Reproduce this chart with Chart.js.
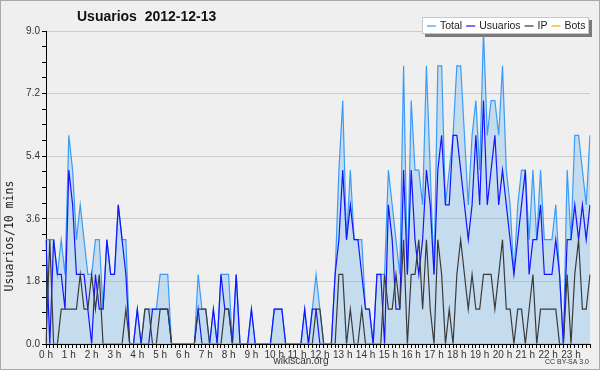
<!DOCTYPE html>
<html>
<head>
<meta charset="utf-8">
<script src="https://cdn.jsdelivr.net/npm/chart.js@4/dist/chart.umd.min.js"></script>
<style>
  body { margin: 0; background: #efefef; }
  canvas { display: block; }
</style>
</head>
<body>
<canvas id="grafico" width="600" height="370"></canvas>
<script>
// datos: una muestra cada 10 minutos (144 por dia)
var horas = ["0 h","1 h","2 h","3 h","4 h","5 h","6 h","7 h","8 h","9 h","10 h","11 h",
             "12 h","13 h","14 h","15 h","16 h","17 h","18 h","19 h","20 h","21 h","22 h","23 h"];
var yTicks = [0, 1.8, 3.6, 5.4, 7.2, 9.0];

var total = [3,3,3,2,3,2,6,5,3,4,3,2,2,3,3,1,3,2,2,4,3,3,0,0,
             1,0,1,1,1,1,2,2,2,0,0,0,0,0,0,0,2,1,1,0,1,0,2,2,
             2,0,2,0,0,0,1,0,0,0,0,0,1,1,1,0,0,0,0,0,1,0,1,2,
             1,0,0,0,2,5,7,3,5,3,3,3,1,1,0,2,2,2,5,4,3,2,8,2,
             7,5,5,4,8,5,2,8,8,4,5,6,8,8,6,4,6,7,5,9,6,7,7,6,
             8,5,4,2,4,5,5,3,5,3,5,3,3,3,4,2,0,5,3,6,6,5,4,6];
var usuarios = [3,0,3,2,2,1,5,4,2,2,2,1,0,2,1,1,3,2,2,4,3,2,0,0,
                1,0,0,0,1,1,1,1,1,0,0,0,0,0,0,0,1,0,0,0,1,0,2,1,
                1,0,2,0,0,0,1,0,0,0,0,0,1,1,1,0,0,0,0,0,1,0,1,1,
                0,0,0,0,2,3,5,3,4,3,3,2,1,1,0,2,2,0,4,3,1,1,5,2,
                5,3,2,3,5,4,2,5,6,4,4,6,6,5,4,3,4,6,4,7,4,5,6,4,
                5,4,3,2,3,4,5,2,3,3,4,2,2,2,3,2,0,3,3,4,3,4,3,4];
var ip = [0,3,0,0,1,1,1,1,1,2,1,1,2,1,2,0,0,0,0,0,0,1,0,0,
          0,0,1,1,0,0,1,1,1,0,0,0,0,0,0,0,1,1,1,0,0,0,0,1,
          1,0,0,0,0,0,0,0,0,0,0,0,0,0,0,0,0,0,0,0,0,0,0,1,
          1,0,0,0,0,2,2,0,1,0,0,1,0,0,0,0,0,2,1,1,2,1,3,0,
          2,2,3,1,3,1,0,3,2,0,1,0,2,3,2,1,2,1,1,2,2,2,1,2,
          3,1,1,0,1,1,0,1,2,0,1,1,1,1,1,0,0,2,0,2,3,1,1,2];
var bots = [0,0,0,0,0,0,0,0,0,0,0,0,0,0,0,0,0,0,0,0,0,0,0,0,
            0,0,0,0,0,0,0,0,0,0,0,0,0,0,0,0,0,0,0,0,0,0,0,0,
            0,0,0,0,0,0,0,0,0,0,0,0,0,0,0,0,0,0,0,0,0,0,0,0,
            0,0,0,0,0,0,0,0,0,0,0,0,0,0,0,0,0,0,0,0,0,0,0,0,
            0,0,0,0,0,0,0,0,0,0,0,0,0,0,0,0,0,0,0,0,0,0,0,0,
            0,0,0,0,0,0,0,0,0,0,0,0,0,0,0,0,0,0,0,0,0,0,0,0];

var titulo = "Usuarios  2012-12-13";
var tituloY = "Usuarios/10 mins";

var colores = {
  total: "#3a9cf6",
  usuarios: "#1414ff",
  ip: "#3a3a3a",
  bots: "#ffa500"
};

// una etiqueta por intervalo de 10 minutos
var franjas = [];
for (var i = 0; i < total.length; i++) {
  franjas.push(Math.floor(i / 6) + ":" + (i % 6) + "0");
}

function esMayor(v) {
  for (var k = 0; k < yTicks.length; k++) {
    if (Math.abs(v - yTicks[k]) < 1e-6) return true;
  }
  return false;
}

var fuente = '"Liberation Sans", Arial, sans-serif';

// fondo, titulo, leyenda y textos de pie
var decorado = {
  id: "decorado",
  beforeDraw: function(chart) {
    var c = chart.ctx;
    c.save();
    c.fillStyle = "#efefef";
    c.fillRect(0, 0, chart.width, chart.height);
    c.restore();
  },
  afterDraw: function(chart) {
    var c = chart.ctx;
    c.save();
    c.strokeStyle = "#a9a9a9";
    c.lineWidth = 1;
    c.strokeRect(0.5, 0.5, chart.width - 1, chart.height - 1);

    c.fillStyle = "#111";
    c.font = "bold 14px " + fuente;
    c.textBaseline = "middle";
    c.textAlign = "left";
    c.fillText(titulo, 77, 17);

    // titulo eje y
    c.save();
    c.translate(10, 236);
    c.rotate(-Math.PI / 2);
    c.textAlign = "center";
    c.font = '11.5px "DejaVu Sans Mono", monospace';
    c.fillStyle = "#222";
    c.fillText(tituloY, 0, 0);
    c.restore();

    // caja de leyenda
    c.fillStyle = "#7a7a7a";
    c.fillRect(425, 20, 167, 17);
    c.fillStyle = "#ffffff";
    c.fillRect(422, 17, 167, 17);
    c.strokeStyle = "#c8c8c8";
    c.strokeRect(422.5, 17.5, 166, 16);

    var items = [["Total", colores.total], ["Usuarios", colores.usuarios], ["IP", colores.ip], ["Bots", colores.bots]];
    c.font = "10.5px " + fuente;
    c.textAlign = "left";
    var x = 427;
    for (var j = 0; j < items.length; j++) {
      c.strokeStyle = items[j][1];
      c.lineWidth = 1.2;
      c.beginPath();
      c.moveTo(x, 26);
      c.lineTo(x + 9, 26);
      c.stroke();
      x += 13;
      c.fillStyle = "#222";
      c.fillText(items[j][0], x, 26);
      x += c.measureText(items[j][0]).width + 4;
    }

    c.fillStyle = "#333";
    c.textAlign = "center";
    c.font = "10px " + fuente;
    c.fillText("wikiscan.org", 301, 361);
    c.textAlign = "right";
    c.font = "7px " + fuente;
    c.fillText("CC BY-SA 3.0", 589, 362);
    c.restore();
  }
};

var config = {
  type: "line",
  data: {
    labels: franjas,
    datasets: [{
      label: "Total",
      data: total,
      borderColor: colores.total,
      backgroundColor: "rgba(99, 176, 239, 0.3)",
      fill: "origin",
      order: 4
    }, {
      label: "Usuarios",
      data: usuarios,
      borderColor: colores.usuarios,
      fill: false,
      order: 3
    }, {
      label: "IP",
      data: ip,
      borderColor: colores.ip,
      fill: false,
      order: 2
    }, {
      label: "Bots",
      data: bots,
      borderColor: colores.bots,
      fill: false,
      order: 1
    }]
  },
  options: {
    responsive: false,
    animation: false,
    events: [],
    elements: {
      line: { borderWidth: 1.2, tension: 0 },
      point: { radius: 0 }
    },
    layout: { padding: { top: 31, right: 10, bottom: 0, left: 0 } },
    plugins: {
      legend: { display: false },
      title: { display: false },
      tooltip: { enabled: false }
    },
    scales: {
      x: {
        z: 1,
        offset: false,
        border: { color: "#000", width: 1 },
        grid: { drawOnChartArea: false, tickColor: "#000", tickLength: 4 },
        ticks: {
          autoSkip: false,
          maxRotation: 0,
          minRotation: 0,
          padding: 1,
          color: "#333",
          font: { family: fuente, size: 10 },
          callback: function(v, i) {
            return i % 6 === 0 ? horas[i / 6] : "";
          }
        },
        afterFit: function(s) { s.height = 26; }
      },
      y: {
        z: 1,
        min: 0,
        max: 9,
        border: { color: "#000", width: 1 },
        grid: {
          tickColor: "#000",
          tickLength: 4,
          color: function(ctx) {
            if (!ctx.tick || ctx.tick.value === 0) return "rgba(0,0,0,0)";
            return esMayor(ctx.tick.value) ? "#cccccc" : "rgba(0,0,0,0)";
          }
        },
        ticks: {
          stepSize: 0.45,
          autoSkip: false,
          padding: 2,
          color: "#333",
          font: { family: fuente, size: 10 },
          callback: function(v) {
            return esMayor(v) ? Number(v).toFixed(1) : "";
          }
        },
        afterFit: function(s) { s.width = 46; }
      }
    }
  },
  plugins: [decorado]
};

var ctx = document.getElementById("grafico");
window.miGrafico = new Chart(ctx, config);
</script>
</body>
</html>
